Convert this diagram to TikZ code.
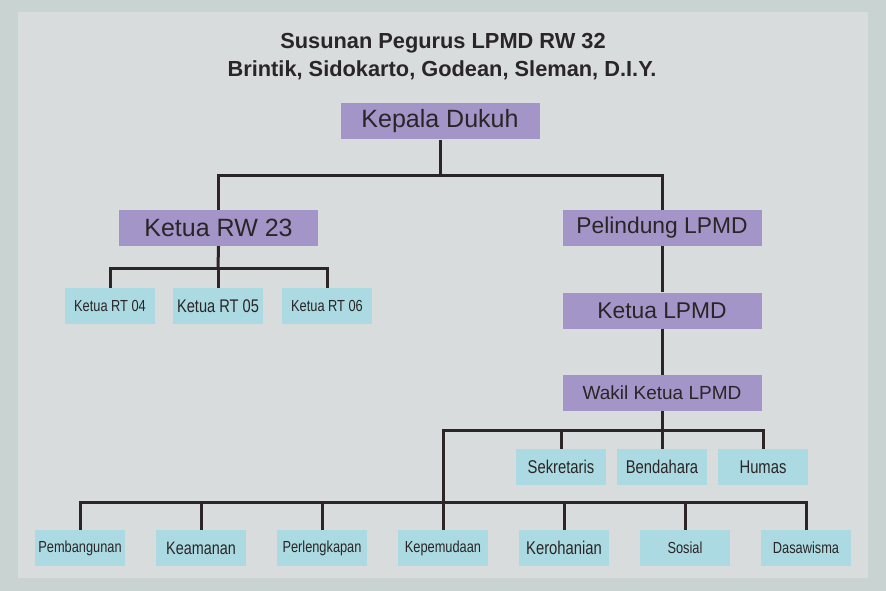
\documentclass[tikz,border=0pt]{standalone}
\usepackage{fontspec}
\setmainfont{Liberation Sans}
\newfontfamily\narrowf[FakeStretch=0.8]{Liberation Sans}
\definecolor{outerbg}{HTML}{C9D3D2}
\definecolor{innerbg}{HTML}{D9DCDD}
\definecolor{purp}{HTML}{A395C7}
\definecolor{cyanbox}{HTML}{ACDAE2}
\definecolor{linec}{HTML}{2D2425}
\definecolor{textc}{HTML}{2A2526}
\newcommand{\fs}[1]{\fontsize{#1}{#1}\selectfont}
\tikzset{
  pbox/.style={fill=purp, text=textc, minimum width=199pt, minimum height=36pt, inner sep=0pt, anchor=center},
  cbox/.style={fill=cyanbox, text=textc, minimum width=90pt, minimum height=36pt, inner sep=0pt, anchor=center, font=\narrowf\fs{16}},
  cboxl/.style={cbox, font=\narrowf\fs{18.5}},
  conn/.style={draw=linec, line width=3pt, line join=miter},
  ttl/.style={text=textc, font=\bfseries\fs{21.8}, inner sep=0pt, anchor=base}
}
\begin{document}
\begin{tikzpicture}[x=1pt,y=-1pt]
\useasboundingbox (0,0) rectangle (886,591);
\fill[outerbg] (0,0) rectangle (886,591);
\fill[innerbg] (18,12) rectangle (868,578);
% title
\node[ttl] (t1) at (443,49) {Susunan Pegurus LPMD RW 32};
\node[ttl] (t2) at (442,76.5) {Brintik, Sidokarto, Godean, Sleman, D.I.Y.};
% purple boxes
\node[pbox, font=\fs{25}] (kd) at (440,121.5) {Kepala Dukuh};
\node[pbox, font=\fs{25}] (rw) at (218.5,228) {Ketua RW 23};
\node[pbox, font=\fs{22.8}] (pl) at (662,228) {Pelindung LPMD};
\node[pbox, font=\fs{22.8}] (kl) at (662,310.5) {Ketua LPMD};
\node[pbox, font=\fs{19}] (wk) at (662,393) {Wakil Ketua LPMD};
% RT boxes
\node[cbox] (rt4) at (110,306) {Ketua RT 04};
\node[cbox, font=\narrowf\fs{18.3}] (rt5) at (218,306) {Ketua RT 05};
\node[cbox] (rt6) at (327,306) {Ketua RT 06};
% middle row
\node[cboxl] (sek) at (561,467) {Sekretaris};
\node[cboxl] (ben) at (662,467) {Bendahara};
\node[cboxl] (hum) at (763,467) {Humas};
% bottom row
\node[cbox] (pem) at (80,548) {Pembangunan};
\node[cbox, font=\narrowf\fs{18}] (kea) at (201,548) {Keamanan};
\node[cbox] (per) at (322,548) {Perlengkapan};
\node[cbox] (kep) at (443,548) {Kepemudaan};
\node[cboxl] (ker) at (564,548) {Kerohanian};
\node[cbox] (sos) at (685,548) {Sosial};
\node[cbox] (das) at (806,548) {Dasawisma};
% junctions
\coordinate (j1) at (440,175);
\coordinate (j2) at (218,268);
\coordinate (j3) at (662,430);
\coordinate (j4) at (443,502);
% connectors
\draw[conn] (kd.south) -- (j1);
\draw[conn] (rw.north) |- (j1) -| (pl.north);
\draw[conn] (pl.south) -- (kl.north);
\draw[conn] (kl.south) -- (wk.north);
\draw[conn] (rw.south) -- (j2);
\draw[conn] (rt4.north) |- (j2) -| (rt6.north);
\draw[conn] (rt5.north) -- (j2);
\draw[conn] (wk.south) -- (j3);
\draw[conn] (kep.north) |- (j3) -| (hum.north);
\draw[conn] (sek.north) -- (sek.north |- j3);
\draw[conn] (ben.north) -- (j3);
\draw[conn] (pem.north) |- (j4) -| (das.north);
\draw[conn] (kea.north) -- (kea.north |- j4);
\draw[conn] (per.north) -- (per.north |- j4);
\draw[conn] (ker.north) -- (ker.north |- j4);
\draw[conn] (sos.north) -- (sos.north |- j4);
\end{tikzpicture}
\end{document}
